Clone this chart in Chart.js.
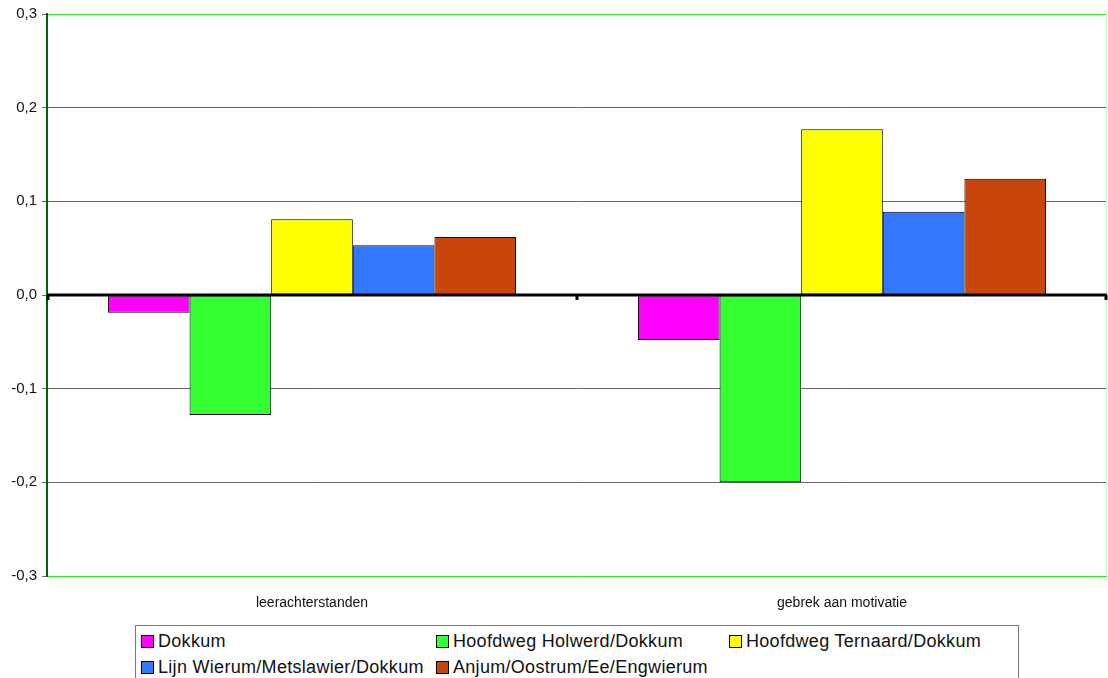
<!DOCTYPE html>
<html>
<head>
<meta charset="utf-8">
<script src="https://cdn.jsdelivr.net/npm/chart.js@4.4.0/dist/chart.umd.min.js"></script>
<style>
    html, body { margin: 0; padding: 0; background: #fff; overflow: hidden; }
    #wrap { position: relative; width: 1108px; height: 678px; }
    #chartBox { position: absolute; left: 0; top: 0; width: 1108px; height: 620px; }
    #legend {
        position: absolute; left: 135px; top: 625px; width: 884px; height: 70px;
        border: 1px solid #777; box-sizing: border-box;
        display: grid; grid-template-columns: 295px 293px 290px;
        grid-auto-rows: 26px; padding: 2px 0 0 5px;
        font-family: "Liberation Sans", Arial, sans-serif; font-size: 18px; letter-spacing: 0.3px; color: #111;
    }
    .item { display: flex; align-items: center; white-space: nowrap; }
    .sw { width: 11px; height: 11px; border: 1px solid #000; margin-right: 4px; flex: none; }
</style>
</head>
<body>
<div id="wrap">
    <div id="chartBox"><canvas id="chartContainer"></canvas></div>
    <div id="legend"></div>
</div>
<script>
const categories = ['leerachterstanden', 'gebrek aan motivatie'];
const seriesNames = ['Dokkum', 'Hoofdweg Holwerd/Dokkum', 'Hoofdweg Ternaard/Dokkum',
    'Lijn Wierum/Metslawier/Dokkum', 'Anjum/Oostrum/Ee/Engwierum'];
const dokkum = [-0.019, -0.048];
const holwerd = [-0.128, -0.200];
const ternaard = [0.081, 0.177];
const lijn = [0.053, 0.089];
const anjum = [0.062, 0.124];
const colors = ['#ff00ff', '#33ff33', '#ffff00', '#3377ff', '#c8460b'];

document.addEventListener("DOMContentLoaded", () => {
    initializeChart();
    buildLegend();
});

// frame around the plot + thick zero line (the x axis) on top of the bars
const framePlugin = {
    id: 'frame',
    afterDatasetsDraw(chart) {
        const {ctx, chartArea: a, scales: {x, y}} = chart;
        ctx.save();
        ctx.strokeStyle = '#b8ffb8';
        ctx.lineWidth = 1;
        ctx.beginPath();
        ctx.moveTo(a.right - 0.5, a.top);
        ctx.lineTo(a.right - 0.5, a.bottom);
        ctx.stroke();
        const y0 = Math.round(y.getPixelForValue(0));
        ctx.strokeStyle = '#000';
        ctx.lineWidth = 3;
        ctx.beginPath();
        ctx.moveTo(a.left, y0);
        ctx.lineTo(a.right, y0);
        ctx.stroke();
        // category separators hanging under the zero line
        const step = (x.right - x.left) / categories.length;
        ctx.lineWidth = 3;
        for (let k = 0; k <= categories.length; k++) {
            const px = Math.min(Math.max(x.left + k * step, a.left + 1), a.right - 1);
            ctx.beginPath();
            ctx.moveTo(px, y0);
            ctx.lineTo(px, y0 + 5);
            ctx.stroke();
        }
        ctx.restore();
    }
};

function initializeChart() {
    const ctx = document.getElementById('chartContainer').getContext('2d');
    const allSeries = [dokkum, holwerd, ternaard, lijn, anjum];
    Chart.defaults.font.family = '"Liberation Sans", Arial, sans-serif';
    Chart.defaults.color = '#111';
    new Chart(ctx, {
        type: 'bar',
        data: {
            labels: categories,
            datasets: allSeries.map((vals, i) => ({
                label: seriesNames[i],
                data: vals,
                backgroundColor: colors[i],
                borderColor: '#000',
                borderWidth: 1,
                borderSkipped: false,
                categoryPercentage: 0.77,
                barPercentage: 1.0
            }))
        },
        options: {
            responsive: true,
            maintainAspectRatio: false,
            animation: false,
            layout: {padding: {top: 14, right: 1, left: 0, bottom: 0}},
            plugins: {
                legend: {display: false},
                tooltip: {enabled: false}
            },
            scales: {
                x: {
                    offset: true,
                    grid: {display: false},
                    border: {display: false},
                    ticks: {font: {size: 14}, padding: 11},
                    afterFit: (s) => { s.height = 44; }
                },
                y: {
                    min: -0.3,
                    max: 0.3,
                    ticks: {
                        stepSize: 0.1,
                        font: {size: 15},
                        padding: 5,
                        callback: (v) => v.toFixed(1).replace('.', ',').replace('-0,0', '0,0')
                    },
                    grid: {
                        color: (c) => {
                            const v = Math.round(c.tick.value * 10);
                            if (Math.abs(v) === 3) return '#22ee22';
                            if (v === 0) return '#000';
                            return '#666';
                        },
                        tickColor: '#666',
                        tickLength: 5
                    },
                    border: {color: '#006400', width: 2},
                    afterFit: (s) => { s.width = 47; }
                }
            }
        },
        plugins: [framePlugin]
    });
}

function buildLegend() {
    const box = document.getElementById('legend');
    seriesNames.forEach((name, i) => {
        const it = document.createElement('div');
        it.className = 'item';
        const sw = document.createElement('span');
        sw.className = 'sw';
        sw.style.background = colors[i];
        const tx = document.createElement('span');
        tx.textContent = name;
        it.appendChild(sw);
        it.appendChild(tx);
        box.appendChild(it);
    });
}
</script>
</body>
</html>
